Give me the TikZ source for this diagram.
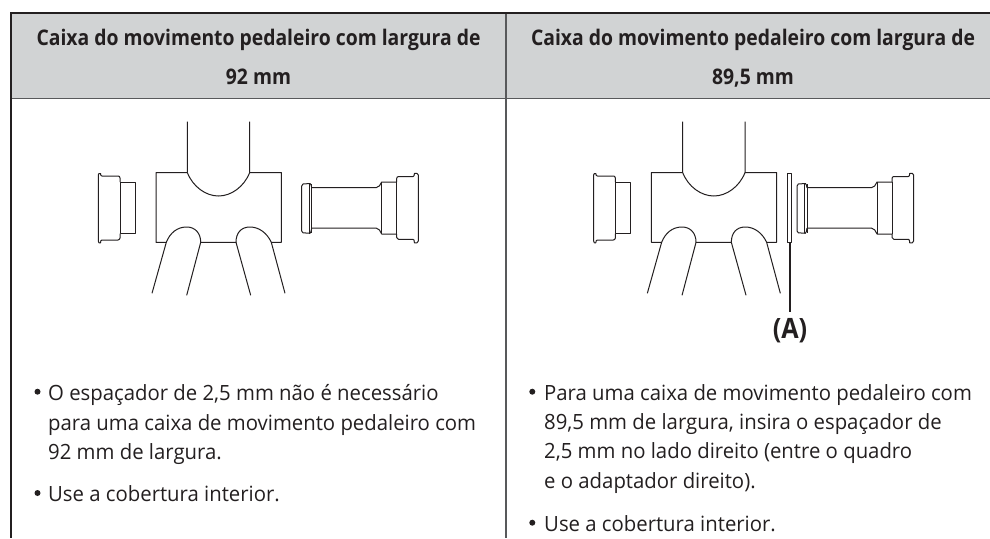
\documentclass[tikz,border=0pt]{standalone}
\usepackage{fontspec}
\setmainfont{Open Sans}[FakeStretch=0.968]
\newfontfamily\headface{Open Sans}[FakeStretch=0.9,UprightFont=* Bold,BoldFont=* Bold]
\definecolor{ink}{HTML}{231F20}
\definecolor{headfill}{HTML}{D1D3D4}
\definecolor{rulegray}{HTML}{58595B}
\newcommand{\bodyfont}{\fontsize{21}{29}\selectfont}
\newcommand{\headfont}{\headface\fontsize{21.5}{29}\selectfont}
\tikzset{
  part/.style={draw=ink,line width=1pt,line join=round},
  headtext/.style={anchor=base,text=ink,inner sep=0pt,font=\headfont},
  bodytext/.style={anchor=base west,text=ink,inner sep=0pt,font=\bodyfont},
  bulletdot/.style={circle,fill=ink,inner sep=0pt,minimum size=6pt},
  pics/frameset/.style={code={
    \draw[part] (187.3,121.7) -- (187.3,172.5) -- (156,172.5) -- (156,242.3) -- (166.3,242.3)
      .. controls (170,233) and (177,227) .. (186.7,227)
      .. controls (195,227) and (200.7,233) .. (200.7,242.3)
      -- (236,242.3)
      .. controls (236,233) and (241,227) .. (250,227)
      .. controls (259,227) and (267,233) .. (271.3,242.3)
      -- (281.3,242.3) -- (281.3,172.5) -- (249.7,172.5) -- (249.7,121.7);
    \draw[part] (187.3,172.5) .. controls (193,187) and (206,196) .. (218.5,196)
      .. controls (231,196) and (244,187) .. (249.7,172.5);
    \draw[part] (166.3,242.3) -- (152,293.3);
    \draw[part] (200.7,242.3) -- (186.7,295.3);
    \draw[part] (236,242.3) -- (250.7,295.3);
    \draw[part] (271.3,242.3) -- (285,293.3);
    \draw[part] (135.3,182) -- (120,182) -- (120,233.7) -- (135.3,233.7) -- cycle;
    \draw[part] (120,182) -- (120,178) .. controls (120,176.5) and (119,176) .. (118,176)
      -- (102,176) .. controls (101,176) and (100.5,175) .. (100.5,173.5) -- (99,173.5)
      .. controls (98.5,174) and (98.3,174.5) .. (98.3,175) -- (98.3,241)
      .. controls (98.3,241.8) and (98.5,242.4) .. (99,242.8) -- (100.5,242.8)
      .. controls (100.5,241) and (101,240) .. (102,240) -- (118,240)
      .. controls (119,240) and (120,239) .. (120,238) -- (120,233.7);
    \draw[part] (311.7,187.7) -- (376,187.7) .. controls (379,187.7) and (380,185) .. (381.7,182)
      -- (396.7,182);
    \draw[part] (311.7,228) -- (376,228) .. controls (379,228) and (380,231) .. (381.7,234)
      -- (396.7,234);
    \draw[part] (381.7,182) -- (381.7,234);
    \draw[part] (311.7,184) -- (311.7,232.7);
    \draw[part] (309.5,184) -- (309.5,232.7);
    \draw[part] (311.7,187.7) .. controls (311,185) and (311,184) .. (310,183.5)
      -- (303,184) .. controls (302,184.2) and (301.7,185) .. (301.7,186) -- (301.7,231)
      .. controls (301.7,232) and (302,232.6) .. (303,232.8) -- (310,233.3)
      .. controls (311,232.8) and (311,231) .. (311.7,228);
    \draw[part] (396.7,234) -- (396.7,237.5) .. controls (396.7,238.6) and (397.5,239.3) .. (398.5,239.3)
      -- (413,239.3) .. controls (414,239.3) and (414.4,240.5) .. (414.4,242.8) -- (417,242.8)
      .. controls (417.8,242.4) and (418.3,241.8) .. (418.3,241) -- (418.3,175)
      .. controls (418.3,174.4) and (417.8,173.8) .. (417,173.4) -- (414.4,173.4)
      .. controls (414.4,175.5) and (414,176.5) .. (413,176.5) -- (398.5,176.5)
      .. controls (397.5,176.5) and (396.7,177.4) .. (396.7,178.5) -- (396.7,182);
    \draw[part] (396.7,182) -- (396.7,234);
  }}
}
\begin{document}
\begin{tikzpicture}[x=1pt,y=-1pt]
\useasboundingbox (0,0) rectangle (990,538);
\fill[white] (0,0) rectangle (990,538);
\fill[headfill] (11,13) rectangle (990,98.5);
\draw[rulegray,line width=1pt] (11,98.5) -- (990,98.5);
\draw[rulegray,line width=1.5pt] (506,13) -- (506,538);
\draw[ink,line width=1.5pt] (11,12.5) -- (11,538);
\draw[ink,line width=2pt] (10.2,13) -- (990,13);
\node[headtext] (h1a) at (258.5,45) {Caixa do movimento pedaleiro com largura de};
\node[headtext] (h1b) at (258.5,84) {92 mm};
\node[headtext] (h2a) at (753,45) {Caixa do movimento pedaleiro com largura de};
\node[headtext] (h2b) at (753,84) {89,5 mm};
\pic {frameset};
\begin{scope}[shift={(495.33,0)}]
\pic {frameset};
\end{scope}
\draw[part,fill=white] (787.3,173.3) rectangle (791.7,242.7);
\coordinate (spacerfoot) at (789.6,242.7);
\node[anchor=base,text=ink,inner sep=0pt,font=\headface\fontsize{28}{32}\selectfont] (labelA) at (790,338) {(A)};
\draw[ink,line width=1.8pt] (spacerfoot) -- (789.6,311.7);
\node[bulletdot] (b1) at (37.5,391.7) {};
\node[bodytext] (t1a) at (48,400) {O espaçador de 2,5 mm não é necessário};
\node[bodytext] (t1b) at (48,430) {para uma caixa de movimento pedaleiro com};
\node[bodytext] (t1c) at (48,459) {92 mm de largura.};
\node[bulletdot] (b2) at (37.5,493) {};
\node[bodytext] (t1d) at (48,501) {Use a cobertura interior.};
\node[bulletdot] (b3) at (532.3,391.7) {};
\node[bodytext] (t2a) at (544,400) {Para uma caixa de movimento pedaleiro com};
\node[bodytext] (t2b) at (544,429) {89,5 mm de largura, insira o espaçador de};
\node[bodytext] (t2c) at (544,458) {2,5 mm no lado direito (entre o quadro};
\node[bodytext] (t2d) at (544,488) {e o adaptador direito).};
\node[bulletdot] (b4) at (532.3,522.7) {};
\node[bodytext] (t2e) at (544,531) {Use a cobertura interior.};
\end{tikzpicture}
\end{document}
